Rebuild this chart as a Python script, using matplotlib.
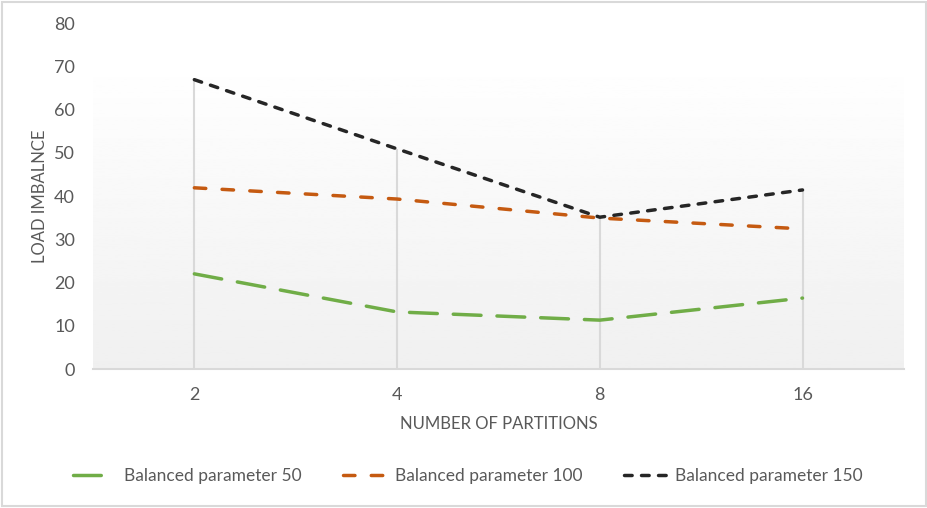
import numpy as np
import matplotlib
matplotlib.use('Agg')
from matplotlib import pyplot as plt
from matplotlib.lines import Line2D

plt.rcParams['font.family'] = ['Lato', 'DejaVu Sans']

# data
partitions = ['2', '4', '8', '16']
bal_50 = [22.0, 13.2, 11.3, 16.4]
bal_100 = [41.9, 39.3, 34.9, 32.4]
bal_150 = [66.9, 50.9, 35.1, 41.4]
series_names = ['Balanced parameter 50', 'Balanced parameter 100', 'Balanced parameter 150']

txt = '#595959'
grid = '#d9d9d9'
lw = 2.5
styles = [('#70ad47', (8, 4.6)), ('#c55a11', (3.3, 4.7)), ('#262626', (2.2, 2.7))]

fig = plt.figure(figsize=(9.28, 5.08), dpi=100)
ax = fig.add_axes([0.1002, 0.2736, 0.8738, 0.6811])

x = np.arange(len(partitions))

# gradient background, white on top, light grey at the bottom
grad = np.linspace(0.94, 1.0, 256).reshape(-1, 1)
ax.imshow(grad, cmap='gray', vmin=0, vmax=1, aspect='auto',
          extent=[-0.5, 3.5, 0, 72], origin='lower', zorder=0)

# drop lines
tops = np.max([bal_50, bal_100, bal_150], axis=0)
ax.vlines(x, 0, tops, color=grid, lw=1.5, zorder=1)

for vals, (c, d) in zip([bal_50, bal_100, bal_150], styles):
    ax.plot(x, vals, color=c, lw=lw, dashes=d, dash_capstyle='round', zorder=3)

ax.set_xlim(-0.5, 3.5)
ax.set_ylim(0, 80)
ax.set_yticks(range(0, 81, 10))
ax.set_xticks(x)
ax.set_xticklabels(partitions)
for s in ['top', 'right', 'left']:
    ax.spines[s].set_visible(False)
ax.spines['bottom'].set_color(grid)
ax.spines['bottom'].set_linewidth(1.5)
ax.tick_params(axis='both', length=0, labelsize=13, labelcolor=txt)
ax.tick_params(axis='y', pad=13)
ax.tick_params(axis='x', pad=13)
ax.set_xlabel('NUMBER OF PARTITIONS', fontsize=12, color=txt, labelpad=9)
ax.set_ylabel('LOAD IMBALNCE', fontsize=12, color=txt, labelpad=4)

handles = [Line2D([], [], color=c, lw=lw, dashes=d, dash_capstyle='round') for c, d in styles]
leg = fig.legend(handles, series_names, loc='center', bbox_to_anchor=(0.504, 0.063),
                 ncol=3, frameon=False, fontsize=12.5, handlelength=2.5,
                 columnspacing=2.4, handletextpad=0.45)
for t in leg.get_texts():
    t.set_color(txt)

# chart border
fig.patches.append(plt.Rectangle((0.002, 0.003), 0.996, 0.994, transform=fig.transFigure,
                                 fill=False, edgecolor=grid, lw=1.5))

fig.savefig('out.png', dpi=100)
